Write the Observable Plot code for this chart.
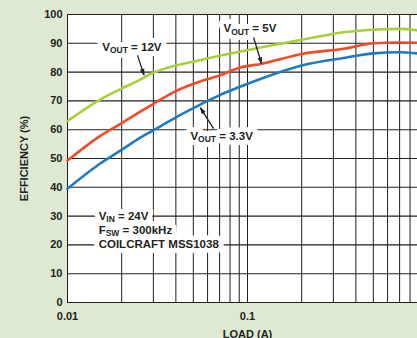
<!DOCTYPE html>
<html><head><meta charset="utf-8">
<script src="https://cdn.jsdelivr.net/npm/d3@7"></script>
<script src="https://cdn.jsdelivr.net/npm/@observablehq/plot@0.6"></script>
<style>
html,body{margin:0;padding:0;background:#dde9d2;overflow:hidden;width:417px;height:338px}
#chart svg{display:block;max-width:none !important}
</style></head><body><div id="chart"></div>
<script>
// ---- data ----
const series = ["VOUT = 12V", "VOUT = 5V", "VOUT = 3.3V"];
const colors = ["#a9cf3c", "#ef4b28", "#1f7bbf"];
const loads = [0.01, 0.015, 0.02, 0.025, 0.03, 0.04, 0.055, 0.07, 0.09, 0.12, 0.2, 0.35, 0.5, 0.7, 0.9];
const eff12 = [63, 70.3, 74.3, 77.2, 79.8, 82.3, 84.2, 85.7, 87.1, 88.6, 91.2, 93.9, 94.7, 95, 94.4];
const eff5  = [49.3, 57.6, 62.3, 66, 69, 73.4, 76.8, 78.8, 81.5, 82.9, 86.3, 88.2, 90, 90.3, 90.2];
const eff33 = [39.5, 48, 53, 57, 59.8, 64.3, 68.8, 72, 74.8, 77.8, 82.3, 85, 86.5, 86.9, 86.4];
const xTicks = [0.01, 0.1];
const yTicks = [0, 10, 20, 30, 40, 50, 60, 70, 80, 90, 100];
const xGrid = [0.01, 0.02, 0.03, 0.04, 0.05, 0.06, 0.07, 0.08, 0.09, 0.1, 0.2, 0.3, 0.4, 0.5, 0.6, 0.7, 0.8, 0.9, 1];
const labelTexts = ["V_OUT = 12V", "V_OUT = 5V", "V_OUT = 3.3V", "V_IN = 24V", "F_SW = 300kHz", "COILCRAFT MSS1038"];
const labelX = [0.0156, 0.0736, 0.0482, 0.0149, 0.0149, 0.0149];
const labelY = [88.7, 95.1, 57.8, 30, 25.1, 20.2];
const arrowX1 = [0.0245, 0.1081, 0.0648];
const arrowY1 = [85.8, 92.0, 60.4];
const arrowX2 = [0.0266, 0.1197, 0.0548];
const arrowY2 = [79.0, 83.0, 67.6];

// ---- tables ----
const values = [eff12, eff5, eff33];
const rows = [];
series.forEach((s, i) => loads.forEach((l, j) => rows.push({series: s, load: l, eff: values[i][j]})));
const labels = labelTexts.map((t, i) => ({text: t, x: labelX[i], y: labelY[i]}));
const arrows = arrowX1.map((x1, i) => ({x1, y1: arrowY1[i], x2: arrowX2[i], y2: arrowY2[i]}));

const ink = "#231f20";
const font = "'Liberation Sans', Arial, Helvetica, sans-serif";
const textOpts = {x: "x", y: "y", text: "text", textAnchor: "start", fontSize: 11.5, fontWeight: "bold"};

const svg = Plot.plot({
  width: 437, height: 345,
  marginLeft: 67, marginRight: 10, marginTop: 14, marginBottom: 43,
  style: {background: "transparent", fontFamily: font, fontWeight: "bold", fontSize: "11px", color: ink, overflow: "visible", maxWidth: "none"},
  x: {type: "log", domain: [0.01, 1]},
  y: {domain: [0, 100]},
  color: {domain: series, range: colors},
  marks: [
    Plot.frame({fill: "white", stroke: null}),
    Plot.ruleX(xGrid, {stroke: ink, strokeWidth: 1}),
    Plot.ruleY(yTicks, {stroke: ink, strokeWidth: 1.1}),
    Plot.line(rows, {x: "load", y: "eff", stroke: "series", strokeWidth: 2.6, curve: "monotone-x"}),
    Plot.text(labels, {...textOpts, fill: "white", stroke: "white", strokeWidth: 10, strokeLinejoin: "round"}),
    Plot.text(labels, {...textOpts, fill: ink}),
    Plot.link(arrows, {x1: "x1", y1: "y1", x2: "x2", y2: "y2", stroke: ink, strokeWidth: 1.3, markerEnd: "arrow"}),
    Plot.axisX({ticks: xTicks, tickSize: 0, tickPadding: 10, tickFormat: d => String(d), fontSize: 11,
      label: "LOAD (A)", labelAnchor: "center", labelOffset: 35, labelArrow: "none"}),
    Plot.axisY({ticks: yTicks, tickSize: 0, tickPadding: 5, fontSize: 11,
      label: "EFFICIENCY (%)", labelAnchor: "center", labelOffset: 47, labelArrow: "none"})
  ]
});
svg.style.maxWidth = "none";

// subscripts
d3.select(svg).selectAll("text").each(function () {
  const t = this.textContent;
  const m = t.match(/^(\w)_(\w+)(.*)$/);
  if (!m) return;
  const s = d3.select(this);
  this.textContent = "";
  s.append("tspan").text(m[1]);
  s.append("tspan").attr("font-size", "8.5px").attr("dy", "2.5").text(m[2]);
  s.append("tspan").attr("dy", "-2.5").text(m[3]);
});
// filled arrowheads
d3.select(svg).selectAll("marker").each(function () {
  const mk = d3.select(this);
  const c = mk.attr("stroke") || ink;
  mk.attr("fill", c).attr("stroke", "none").attr("viewBox", "-8 -5 10 10");
  mk.selectAll("path").attr("d", "M-7,-2.6L1.5,0L-7,2.6Z");
});
document.getElementById("chart").appendChild(svg);
</script></body></html>
